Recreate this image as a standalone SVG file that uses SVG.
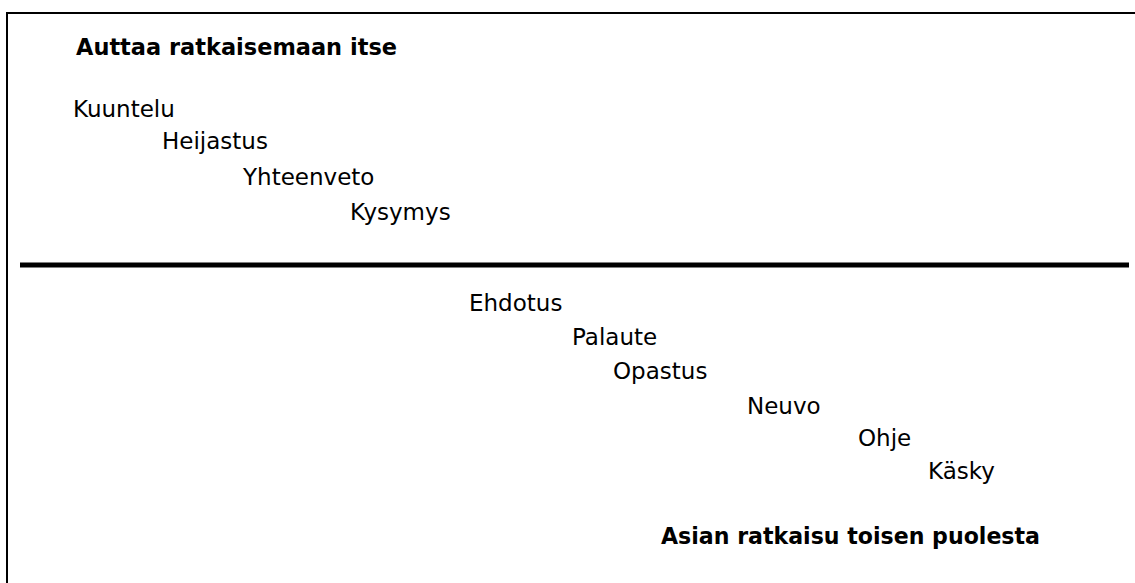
<svg xmlns="http://www.w3.org/2000/svg" width="1135" height="583" viewBox="0 0 1135 583">
<style>
.t{font-family:"DejaVu Sans","Liberation Sans",sans-serif;font-size:23px;fill:#000}
.b{font-family:"DejaVu Sans","Liberation Sans",sans-serif;font-size:22.5px;font-weight:bold;fill:#000}
</style>
<rect width="1135" height="583" fill="#fff"/>
<g id="frame">
<path d="M7,583 V13 H1135" fill="none" stroke="#000" stroke-width="2"/>
</g>
<g id="connectors">
<line x1="20" y1="265" x2="1129" y2="265" stroke="#000" stroke-width="5"/>
</g>
<g id="title-top"><text class="b" x="76" y="55" textLength="321" lengthAdjust="spacingAndGlyphs">Auttaa ratkaisemaan itse</text></g>
<g id="n-kuuntelu"><text class="t" x="73" y="117">Kuuntelu</text></g>
<g id="n-heijastus"><text class="t" x="162" y="149">Heijastus</text></g>
<g id="n-yhteenveto"><text class="t" x="243" y="185">Yhteenveto</text></g>
<g id="n-kysymys"><text class="t" x="350" y="220">Kysymys</text></g>
<g id="n-ehdotus"><text class="t" x="469" y="311">Ehdotus</text></g>
<g id="n-palaute"><text class="t" x="572" y="345">Palaute</text></g>
<g id="n-opastus"><text class="t" x="613" y="379">Opastus</text></g>
<g id="n-neuvo"><text class="t" x="747" y="414">Neuvo</text></g>
<g id="n-ohje"><text class="t" x="858" y="446">Ohje</text></g>
<g id="n-kasky"><text class="t" x="928" y="479">Käsky</text></g>
<g id="title-bottom"><text class="b" x="661" y="544" textLength="379" lengthAdjust="spacingAndGlyphs">Asian ratkaisu toisen puolesta</text></g>
</svg>
